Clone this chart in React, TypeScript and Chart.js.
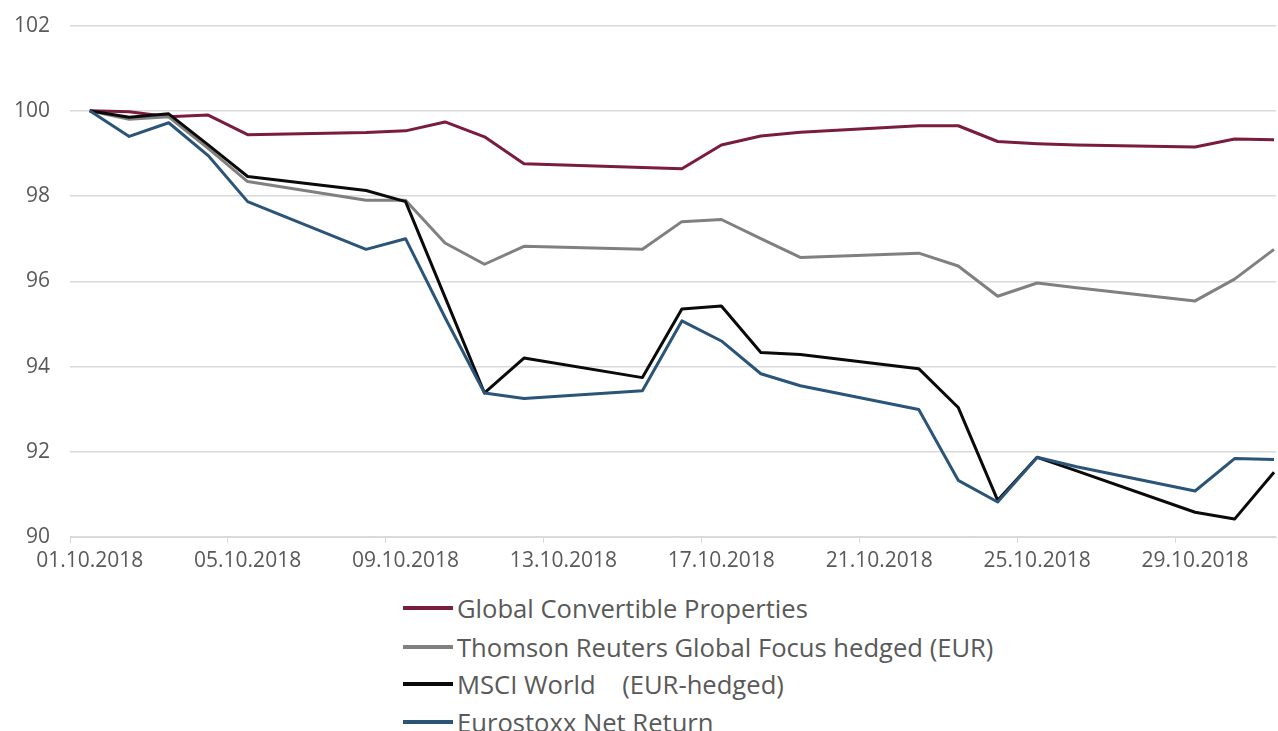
import React, { useEffect, useRef } from 'react';
import { Chart, registerables } from 'chart.js';

Chart.register(...registerables);

const dates = [
  '01.10.2018', '02.10.2018', '03.10.2018', '04.10.2018', '05.10.2018',
  '08.10.2018', '09.10.2018', '10.10.2018', '11.10.2018', '12.10.2018',
  '15.10.2018', '16.10.2018', '17.10.2018', '18.10.2018', '19.10.2018',
  '22.10.2018', '23.10.2018', '24.10.2018', '25.10.2018', '26.10.2018',
  '29.10.2018', '30.10.2018', '31.10.2018',
];

const globalConvertible = [
  100, 99.98, 99.86, 99.9, 99.44,
  99.49, 99.53, 99.74, 99.39, 98.76,
  98.67, 98.64, 99.2, 99.41, 99.5,
  99.65, 99.65, 99.28, 99.23, 99.2,
  99.15, 99.34, 99.32,
];

const thomsonReuters = [
  100, 99.8, 99.86, 99.12, 98.34,
  97.9, 97.9, 96.9, 96.4, 96.82,
  96.75, 97.4, 97.45, 97.0, 96.56,
  96.66, 96.36, 95.65, 95.96, 95.85,
  95.54, 96.05, 96.75,
];

const msciWorld = [
  100, 99.85, 99.93, 99.2, 98.46,
  98.13, 97.87, 95.63, 93.38, 94.2,
  93.74, 95.35, 95.42, 94.33, 94.28,
  93.95, 93.04, 90.86, 91.87, 91.55,
  90.58, 90.42, 91.52,
];

const eurostoxx = [
  100, 99.4, 99.72, 98.95, 97.87,
  96.75, 97.0, 95.15, 93.38, 93.25,
  93.43, 95.07, 94.6, 93.83, 93.55,
  92.99, 91.33, 90.82, 91.87, 91.65,
  91.08, 91.84, 91.82,
];

const seriesNames = [
  'Global Convertible Properties',
  'Thomson Reuters Global Focus hedged (EUR)',
  'MSCI World    (EUR-hedged)',
  'Eurostoxx Net Return',
];

const seriesColors = ['#7a1c3c', '#808080', '#0a0a0a', '#2a5478'];

const xTickLabels = [
  '01.10.2018', '05.10.2018', '09.10.2018', '13.10.2018',
  '17.10.2018', '21.10.2018', '25.10.2018', '29.10.2018',
];

const yTicks = [90, 92, 94, 96, 98, 100, 102];

const FONT = '"Open Sans", "DejaVu Sans", sans-serif';
const TEXT_COLOR = '#595959';
const GRID_COLOR = '#d9d9d9';

const dayIndex = (d: string) => parseInt(d.slice(0, 2), 10) - 1;

export default function App() {
  const ref = useRef<HTMLCanvasElement>(null);

  useEffect(() => {
    if (!ref.current) return;
    const toPoints = (vals: number[]) => dates.map((d, i) => ({ x: dayIndex(d), y: vals[i] }));
    const allSeries = [globalConvertible, thomsonReuters, msciWorld, eurostoxx];
    const orders = [3, 2, 1, 0];
    const chart = new Chart(ref.current, {
      type: 'line',
      data: {
        datasets: allSeries.map((vals, i) => ({
          label: seriesNames[i],
          data: toPoints(vals),
          borderColor: seriesColors[i],
          backgroundColor: seriesColors[i],
          borderWidth: 3,
          pointRadius: 0,
          tension: 0,
          borderJoinStyle: 'round' as const,
          order: orders[i],
        })),
      },
      options: {
        animation: false,
        responsive: false,
        layout: { padding: { top: 17, right: 2, left: 0, bottom: 0 } },
        plugins: { legend: { display: false }, tooltip: { enabled: false } },
        scales: {
          x: {
            type: 'linear',
            min: -0.5,
            max: 30.05,
            afterBuildTicks: (s: any) => {
              s.ticks = xTickLabels.map((l) => ({ value: dayIndex(l) - 0.5 }));
            },
            afterFit: (s: any) => {
              s.height = 48;
            },
            grid: { drawOnChartArea: false, drawTicks: true, tickLength: 6, color: GRID_COLOR },
            border: { color: GRID_COLOR, width: 1 },
            ticks: {
              autoSkip: false,
              maxRotation: 0,
              minRotation: 0,
              labelOffset: 19.7,
              padding: 5,
              color: TEXT_COLOR,
              font: { family: FONT, size: 21 },
              callback: (_v: any, i: number) => xTickLabels[i],
            },
          },
          y: {
            min: 90,
            max: 102,
            afterBuildTicks: (s: any) => {
              s.ticks = yTicks.map((v) => ({ value: v }));
            },
            afterFit: (s: any) => {
              s.width = 70;
            },
            grid: { color: GRID_COLOR, drawTicks: false, lineWidth: 1.5 },
            border: { display: false },
            ticks: {
              padding: 20,
              color: TEXT_COLOR,
              font: { family: FONT, size: 21 },
              callback: (v: any) => String(v),
            },
          },
        },
      },
    });
    return () => chart.destroy();
  }, []);

  const legendCenters = [608, 647, 684, 722];

  return (
    <div style={{ position: 'fixed', left: 0, top: 0, width: 1278, height: 731, background: '#fff', overflow: 'hidden' }}>
      <canvas ref={ref} width={1278} height={592} style={{ position: 'absolute', left: 0, top: -7 }} />
      {seriesNames.map((name, i) => (
        <div
          key={name}
          style={{
            position: 'absolute',
            left: 403,
            top: legendCenters[i] - 18,
            height: 36,
            display: 'flex',
            alignItems: 'center',
            fontFamily: FONT,
            fontSize: 25.6,
            color: TEXT_COLOR,
            whiteSpace: 'pre',
          }}
        >
          <span style={{ display: 'inline-block', width: 50, height: 4, background: seriesColors[i], marginRight: 4 }} />
          <span>{name}</span>
        </div>
      ))}
    </div>
  );
}
